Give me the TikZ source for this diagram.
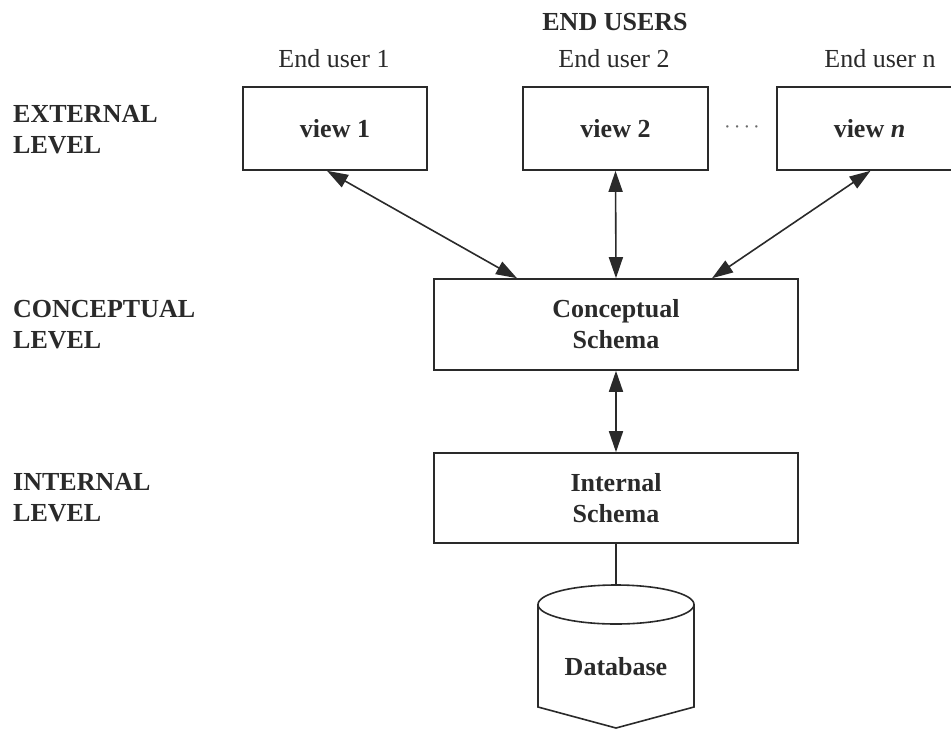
\documentclass[tikz,border=0pt]{standalone}
\usepackage{fontspec}
\setmainfont{Liberation Serif}
\usetikzlibrary{arrows.meta}
\definecolor{ink}{HTML}{2A2A2A}
\begin{document}
\begin{tikzpicture}[x=1pt,y=-1pt,
  inkline/.style={line width=1.6pt, draw=ink},
  viewbox/.style={inkline, rectangle, minimum width=184pt, minimum height=83pt, inner sep=0pt, text=ink, font=\fontsize{26}{32}\selectfont\bfseries},
  schemabox/.style={inkline, rectangle, minimum width=364pt, minimum height=91pt, inner sep=0pt, align=center, text=ink, font=\fontsize{26}{32}\selectfont\bfseries},
  levellabel/.style={anchor=north west, inner sep=0pt, align=left, text=ink, font=\fontsize{26}{31}\selectfont\bfseries},
  userlabel/.style={anchor=base, inner sep=0pt, text=ink, font=\fontsize{26}{31}\selectfont},
  biarrow/.style={inkline, {Triangle[length=21pt,width=14pt]}-{Triangle[length=21pt,width=14pt]}}
]
\useasboundingbox (0,0) rectangle (951,729);

% top labels
\node[userlabel, font=\fontsize{26}{31}\selectfont\bfseries] (endusers) at (615,30) {END USERS};
\node[userlabel] (eu1) at (334,67) {End user 1};
\node[userlabel] (eu2) at (614,67) {End user 2};
\node[userlabel] (eun) at (880,67) {End user n};

% level labels
\node[levellabel] (ext) at (13,105) {EXTERNAL\\LEVEL};
\node[levellabel] (con) at (13,300) {CONCEPTUAL\\LEVEL};
\node[levellabel] (int) at (13,473) {INTERNAL\\LEVEL};

% view boxes
\node[viewbox] (v1) at (335,128.5) {view 1};
\node[viewbox, minimum width=185pt] (v2) at (615.5,128.5) {view 2};
\node[viewbox, minimum width=185pt] (vn) at (869.5,128.5) {view \textit{n}};
\node[inner sep=0pt, text=ink!70, font=\fontsize{20}{20}\selectfont] (dots) at (742,130) {·\hspace{3pt}·\hspace{3pt}·\hspace{3pt}·};

% schema boxes
\node[schemabox] (cs) at (616,324.5) {Conceptual\\[-1pt]Schema};
\node[schemabox, minimum height=90pt] (is) at (616,498) {Internal\\[-1pt]Schema};

% database cylinder
\coordinate (dbtop) at (616,585);
\draw[inkline, fill=white] (538,604.5) -- (538,707) -- (616,728) -- (694,707) -- (694,604.5);
\draw[inkline] (616,604.5) ellipse [x radius=78pt, y radius=19.5pt];
\node[inner sep=0pt, text=ink, font=\fontsize{26}{31}\selectfont\bfseries, anchor=base] (db) at (616,675) {Database};

% connectors
\draw[biarrow] ([xshift=-8pt]v1.south) -- ([xshift=-99pt]cs.north);
\draw[biarrow] (v2.south) -- (cs.north);
\draw[biarrow] ([xshift=1pt]vn.south) -- ([xshift=96pt]cs.north);
\draw[biarrow] (cs.south) -- (is.north);
\draw[inkline] (is.south) -- (dbtop);
\end{tikzpicture}
\end{document}
